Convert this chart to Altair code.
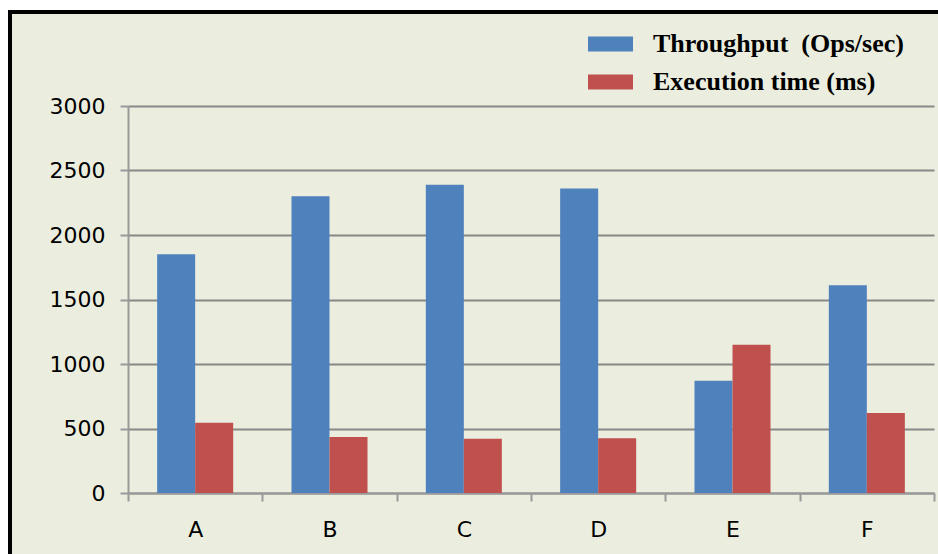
import altair as alt
import pandas as pd

categories = ["A", "B", "C", "D", "E", "F"]
throughput = [1850, 2300, 2390, 2360, 870, 1610]
exec_time = [545, 435, 420, 425, 1150, 620]
series = ["Throughput \u00a0(Ops/sec)", "Execution time (ms)"]
colors = ["#4F81BD", "#C0504D"]
y_ticks = [0, 500, 1000, 1500, 2000, 2500, 3000]

rows = []
for c, t, e in zip(categories, throughput, exec_time):
    rows.append({"cat": c, "series": series[0], "value": t})
    rows.append({"cat": c, "series": series[1], "value": e})
df = pd.DataFrame(rows)

W, H = 806, 387
one = pd.DataFrame({"a": [0]})

frame = alt.Chart(one).mark_rect(
    fill=None, filled=False, stroke="#000000", strokeWidth=4, clip=False
).encode(
    x=alt.value(-118), x2=alt.value(W + 30),
    y=alt.value(-94), y2=alt.value(H + 80),
)
white_left = alt.Chart(one).mark_rect(fill="#FFFFFF", clip=False).encode(
    x=alt.value(-130), x2=alt.value(-120),
    y=alt.value(-110), y2=alt.value(H + 70),
)
white_top = alt.Chart(one).mark_rect(fill="#FFFFFF", clip=False).encode(
    x=alt.value(-130), x2=alt.value(W + 10),
    y=alt.value(-110), y2=alt.value(-96),
)

label_expr = ("datum.label == 'Execution time (ms)' ? "
              "'\u00a0\u00a0' + datum.label : datum.label")

bars = alt.Chart(df).mark_bar(stroke=None).encode(
    x=alt.X("cat:N", sort=categories,
            scale=alt.Scale(paddingInner=0, paddingOuter=0),
            axis=alt.Axis(title=None, labelAngle=0, tickBand="extent",
                          tickSize=8, tickColor="#999999", tickWidth=2,
                          domainColor="#999999", domainWidth=2,
                          labelFont="DejaVu Sans", labelFontSize=22,
                          labelColor="#000000", labelPadding=18,
                          grid=False)),
    xOffset=alt.XOffset("series:N", sort=series,
                        scale=alt.Scale(paddingInner=0, paddingOuter=0.767)),
    y=alt.Y("value:Q", scale=alt.Scale(domain=[0, 3000], nice=False),
            axis=alt.Axis(title=None, values=y_ticks, grid=True, format="d",
                          gridColor="#888888", gridWidth=2,
                          tickSize=8, tickColor="#999999", tickWidth=2,
                          domainColor="#999999", domainWidth=2,
                          labelFont="DejaVu Sans", labelFontSize=22,
                          labelColor="#000000", labelPadding=15)),
    color=alt.Color("series:N", sort=series,
                    scale=alt.Scale(domain=series, range=colors),
                    legend=alt.Legend(
                        title=None, orient="none", legendX=460, legendY=-72,
                        symbolType="M-1,-0.333L1,-0.333L1,0.333L-1,0.333Z",
                        symbolSize=2025, symbolStrokeWidth=0, symbolOpacity=1,
                        clipHeight=20, rowPadding=12, labelLimit=500,
                        labelExpr=label_expr,
                        labelFont="Liberation Serif", labelFontWeight="bold",
                        labelFontSize=26, labelColor="#000000", labelOffset=20,
                    )),
)

chart = alt.layer(white_left, white_top, frame, bars).properties(
    width=W, height=H,
    padding={"left": 128, "top": 106, "right": 4, "bottom": 61},
    autosize=alt.AutoSizeParams(type="none"),
    background="#EBEEDF",
).configure_view(stroke=None, fill=None)

chart.save("out.html", embed_options={"renderer": "svg", "actions": False})
